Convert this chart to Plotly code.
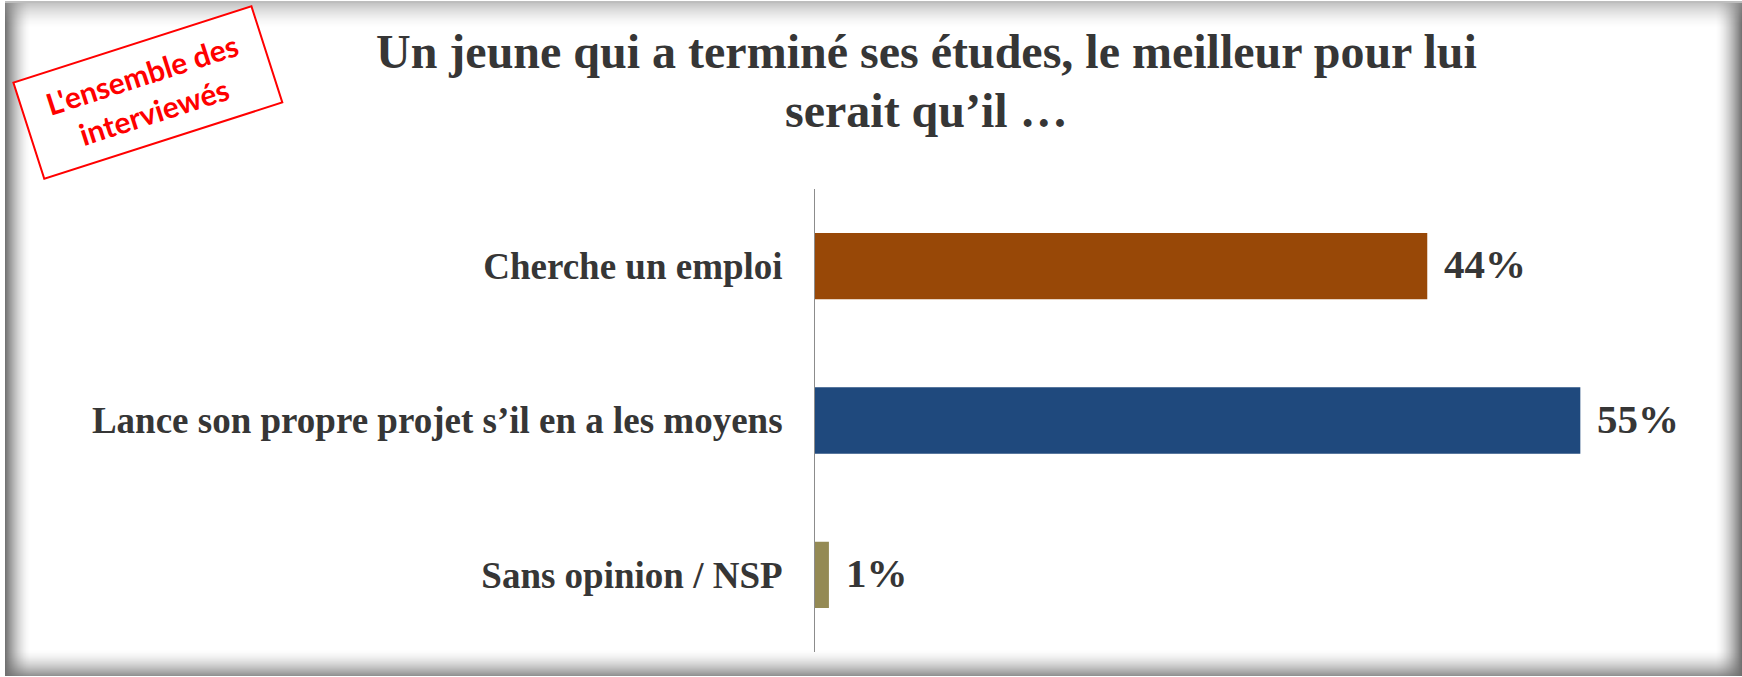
import plotly.graph_objects as go

# ---- data ----
categories = ["Cherche un emploi", "Lance son propre projet s’il en a les moyens", "Sans opinion / NSP"]
values = [44, 55, 1]
value_labels = ["44%", "55%", "1%"]
bar_colors = ["#984807", "#1F497D", "#948A54"]
title_lines = ["Un jeune qui a terminé ses études, le meilleur pour lui", "serait qu’il …"]
stamp_lines = ["L'ensemble des", "interviewés"]

W, H = 1742, 677
ML, MR, MT, MB = 815, 42, 189, 25
PW, PH = W - ML - MR, H - MT - MB


def px(x):
    return (x - ML) / PW


def py(y):
    return (H - MB - y) / PH


SERIF = "Liberation Serif, Times New Roman, serif"
TXT = "#363636"

fig = go.Figure()
fig.add_trace(go.Bar(
    x=values, y=categories, orientation="h",
    marker=dict(color=bar_colors, line=dict(width=0)),
    hoverinfo="skip",
))

shapes = []


def band(side, outer, inner, rgb, a0, steps):
    for i in range(steps):
        f0 = outer + (inner - outer) * i / steps
        f1 = outer + (inner - outer) * (i + 1) / steps
        a = a0 * (1 - i / steps) ** 1.6
        col = f"rgba({rgb},{rgb},{rgb},{a:.3f})"
        if side in ("left", "right"):
            x0, x1 = sorted([f0, f1])
            y0, y1 = 1, 676
        else:
            y0, y1 = sorted([f0, f1])
            x0, x1 = 5, 1742
        shapes.append(dict(type="rect", xref="paper", yref="paper",
                           x0=px(x0), x1=px(x1), y0=py(y1), y1=py(y0),
                           fillcolor=col, line=dict(width=0), layer="below"))


band("left", 5, 30, 90, 0.85, 25)
band("right", 1742, 1716, 90, 0.85, 26)
band("bottom", 676, 650, 110, 0.75, 26)
band("top", 3, 28, 150, 0.55, 25)
shapes.append(dict(type="line", xref="paper", yref="paper",
                   x0=px(5), x1=px(1742), y0=py(2), y1=py(2),
                   line=dict(color="#bdbdbd", width=2), layer="below"))

annotations = []
for v, c, lab in zip(values, categories, value_labels):
    annotations.append(dict(x=v, y=c, xref="x", yref="y", text=f"<b>{lab}</b>", showarrow=False,
                            xanchor="left", yanchor="middle", xshift=15, yshift=2,
                            font=dict(family=SERIF, size=41, color=TXT)))

for line, yc in zip(title_lines, [52, 111]):
    annotations.append(dict(x=px(926), y=py(yc), xref="paper", yref="paper",
                            text=f"<b>{line}</b>", showarrow=False,
                            xanchor="center", yanchor="middle",
                            font=dict(family=SERIF, size=48, color=TXT)))

annotations.append(dict(x=px(148), y=py(93), xref="paper", yref="paper",
                        text="<b>" + "<br>".join(stamp_lines) + "</b>", showarrow=False,
                        xanchor="center", yanchor="middle", textangle=-17.8,
                        width=244, height=95, borderpad=2, borderwidth=2,
                        bordercolor="#ff0000", bgcolor="white",
                        font=dict(family="Lato, Open Sans, sans-serif", size=30, color="#ff0000")))

fig.update_layout(
    width=W, height=H,
    margin=dict(l=ML, r=MR, t=MT, b=MB, autoexpand=False),
    paper_bgcolor="white", plot_bgcolor="white",
    showlegend=False, bargap=0.57,
    shapes=shapes, annotations=annotations,
    xaxis=dict(range=[0, 63.6], visible=False, fixedrange=True),
    yaxis=dict(categoryorder="array", categoryarray=categories, autorange="reversed",
               showline=True, linecolor="#8c8c8c", linewidth=1, showgrid=False,
               zeroline=False, ticks="", ticklabelstandoff=24, automargin=False,
               fixedrange=True,
               tickfont=dict(family=SERIF, size=37, color=TXT, weight="bold")),
)

fig.write_html("out.html", config={"displayModeBar": False},
               post_script="document.body.style.margin='0';")
